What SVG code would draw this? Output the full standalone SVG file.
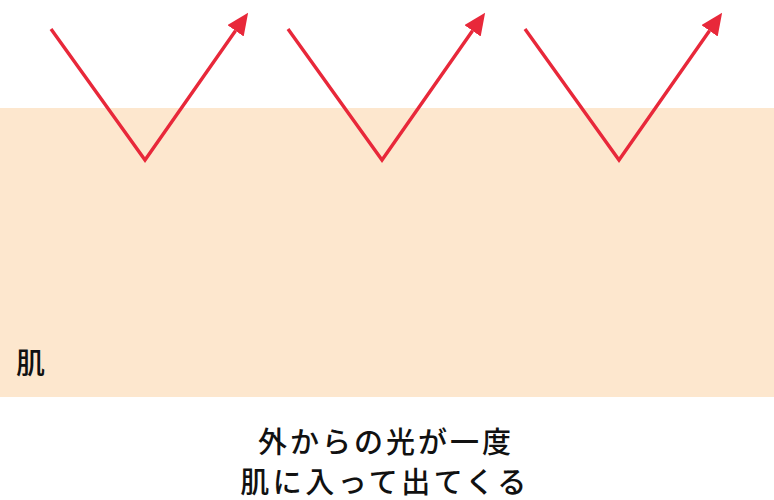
<svg xmlns="http://www.w3.org/2000/svg" width="774" height="500" viewBox="0 0 774 500">
<defs>
<style>
.ray{fill:none;stroke:#E8283A;stroke-width:3.4;marker-end:url(#ah)}
.t{font-family:"Noto Sans CJK JP","Noto Sans CJK SC",sans-serif;font-size:29px;fill:#111;font-weight:500}
</style>
<marker id="ah" markerUnits="userSpaceOnUse" markerWidth="22" markerHeight="20" viewBox="0 0 22 20" refX="0" refY="10" orient="auto">
<path d="M0,0 L22,10 L0,20 z" fill="#E8283A"/>
</marker>
</defs>
<rect id="skin" x="0" y="108" width="774" height="289" fill="#FDE7CE"/>
<g id="connectors">
<polyline class="ray" points="51,29 145,160 235.5,30.8"/>
<polyline class="ray" points="288,29 382,160 472.5,30.8"/>
<polyline class="ray" points="525,29 619,160 709.5,30.8"/>
</g>
<g id="label-skin"><text class="t" x="16" y="374" font-size="30">肌</text></g>
<g id="caption">
<text class="t" x="386" y="453" text-anchor="middle" letter-spacing="3">外からの光が一度</text>
<text class="t" x="385" y="493" text-anchor="middle" letter-spacing="3.5">肌に入って出てくる</text>
</g>
</svg>
